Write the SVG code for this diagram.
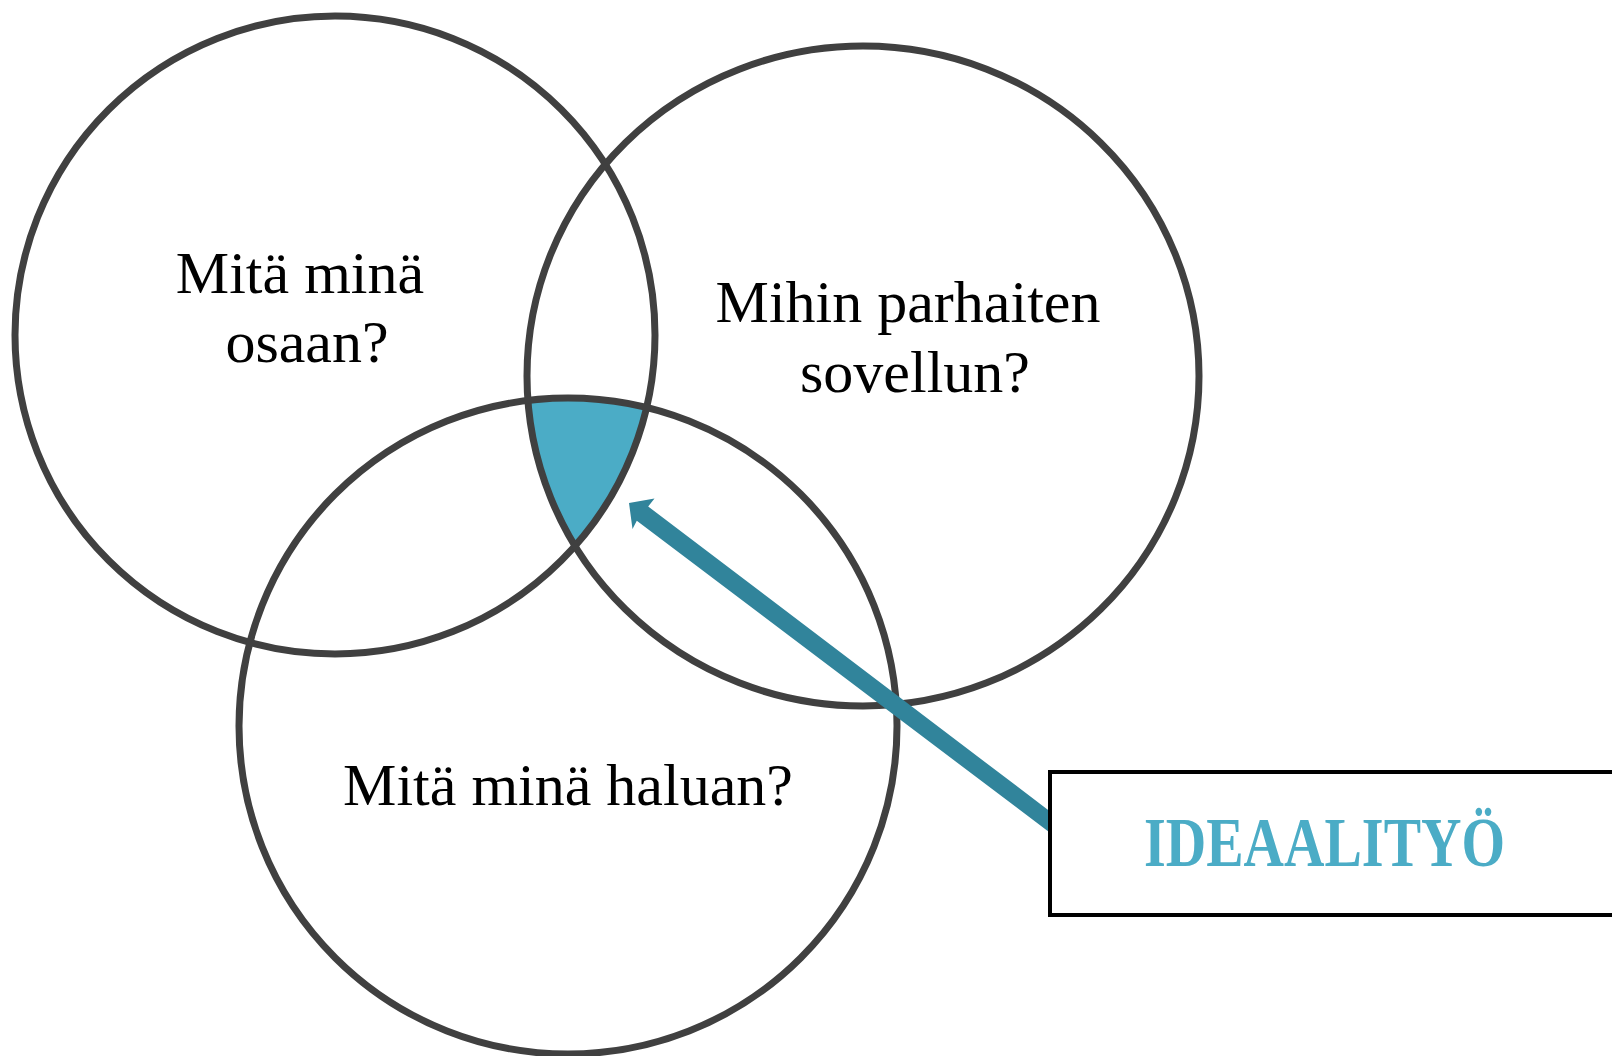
<svg xmlns="http://www.w3.org/2000/svg" width="1612" height="1056" viewBox="0 0 1612 1056">
<style>
.ring{fill:none;stroke:#404040;stroke-width:7}
.lbl{font-family:"Liberation Serif","DejaVu Serif",serif;font-size:60px;fill:#000;text-anchor:middle}
.title{font-family:"Liberation Serif","DejaVu Serif",serif;font-size:70px;font-weight:bold;fill:#4BACC6}
</style>
<defs>
<clipPath id="c2"><ellipse cx="863" cy="376" rx="336" ry="330"/></clipPath>
<clipPath id="c3"><ellipse cx="568" cy="726" rx="329" ry="328"/></clipPath>
</defs>
<rect width="1612" height="1056" fill="#fff"/>
<g id="overlap">
<g clip-path="url(#c3)"><g clip-path="url(#c2)"><ellipse cx="335" cy="335" rx="320" ry="319" fill="#4BACC6"/></g></g>
</g>
<g id="circle-osaan">
<ellipse class="ring" cx="335" cy="335" rx="320" ry="319"/>
<text class="lbl" x="300" y="293">Mitä minä</text>
<text class="lbl" x="307" y="362">osaan?</text>
</g>
<g id="circle-sovellun">
<ellipse class="ring" cx="863" cy="376" rx="336" ry="330"/>
<text class="lbl" x="908" y="322">Mihin parhaiten</text>
<text class="lbl" x="915" y="392">sovellun?</text>
</g>
<g id="circle-haluan">
<ellipse class="ring" cx="568" cy="726" rx="329" ry="328"/>
<text class="lbl" x="568" y="805">Mitä minä haluan?</text>
</g>
<g id="connectors">
<polygon fill="#31849B" points="629,503 654.5,498.4 648.2,506.5 1064.5,822.4 1054.3,836.0 636.8,520.7 632.5,529"/>
</g>
<g id="ideaalityo">
<rect x="1050" y="772" width="600" height="143" fill="#fff" stroke="#000" stroke-width="4"/>
<text class="title" x="1144" y="866" textLength="361" lengthAdjust="spacingAndGlyphs">IDEAALITYÖ</text>
</g>
</svg>
